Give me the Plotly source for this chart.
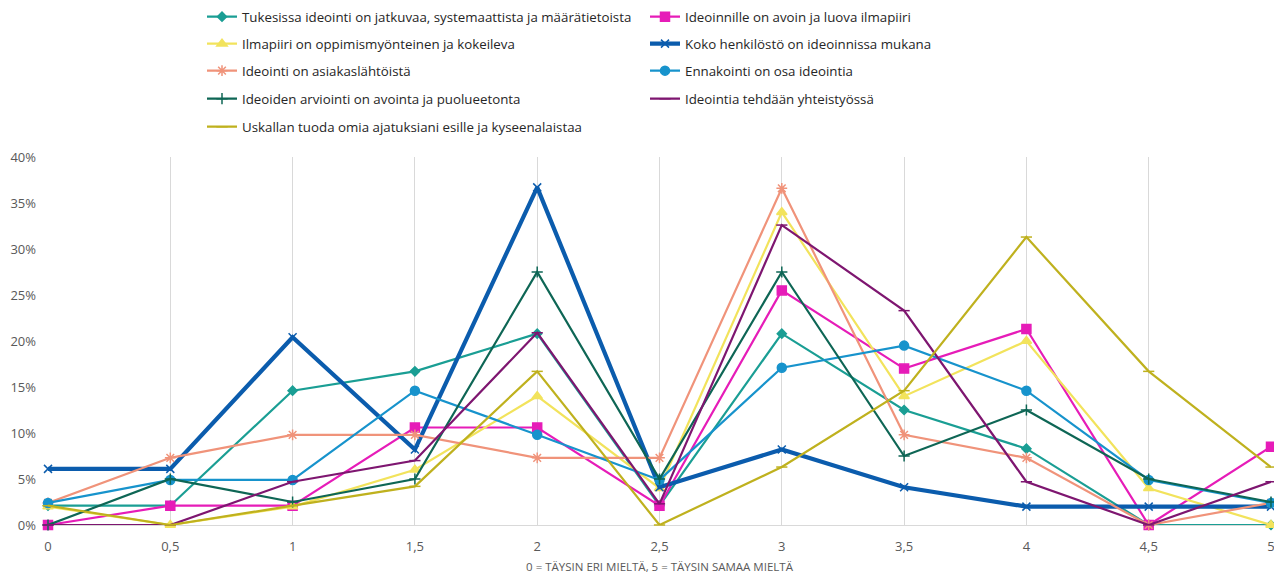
import plotly.graph_objects as go

x_vals = [0, 0.5, 1, 1.5, 2, 2.5, 3, 3.5, 4, 4.5, 5]
x_labels = ["0", "0,5", "1", "1,5", "2", "2,5", "3", "3,5", "4", "4,5", "5"]

names = [
    "Tukesissa ideointi on jatkuvaa, systemaattista ja määrätietoista",
    "Ideoinnille on avoin ja luova ilmapiiri",
    "Ilmapiiri on oppimismyönteinen ja kokeileva",
    "Koko henkilöstö on ideoinnissa mukana",
    "Ideointi on asiakaslähtöistä",
    "Ennakointi on osa ideointia",
    "Ideoiden arviointi on avointa ja puolueetonta",
    "Ideointia tehdään yhteistyössä",
    "Uskallan tuoda omia ajatuksiani esille ja kyseenalaistaa",
]

tukesissa = [2.1, 2.1, 14.6, 16.7, 20.8, 2.1, 20.8, 12.5, 8.3, 0.0, 0.0]
ideoinnille = [0.0, 2.1, 2.1, 10.6, 10.6, 2.1, 25.5, 17.0, 21.3, 0.0, 8.5]
ilmapiiri = [2.0, 0.0, 2.0, 6.0, 14.0, 4.0, 34.0, 14.0, 20.0, 4.0, 0.0]
koko = [6.1, 6.1, 20.4, 8.2, 36.7, 4.1, 8.2, 4.1, 2.0, 2.0, 2.0]
asiakas = [2.4, 7.3, 9.8, 9.8, 7.3, 7.3, 36.6, 9.8, 7.3, 0.0, 2.4]
ennakointi = [2.4, 4.9, 4.9, 14.6, 9.8, 4.9, 17.1, 19.5, 14.6, 4.9, 2.4]
arviointi = [0.0, 5.0, 2.5, 5.0, 27.5, 5.0, 27.5, 7.5, 12.5, 5.0, 2.5]
yhteistyo = [0.0, 0.0, 4.7, 7.0, 20.9, 2.3, 32.6, 23.3, 4.7, 0.0, 4.7]
uskallan = [2.1, 0.0, 2.1, 4.2, 16.7, 0.0, 6.3, 14.6, 31.3, 16.7, 6.3]

series = [tukesissa, ideoinnille, ilmapiiri, koko, asiakas, ennakointi, arviointi, yhteistyo, uskallan]

colors = ["#1A9E94", "#E61CB8", "#F2E35C", "#0B5CAD", "#F0937A", "#1793CC", "#0E6655", "#7E1670", "#BFB11E"]
symbols = ["diamond", "square", "triangle-up", "x-thin-open", "asterisk-open", "circle",
           "cross-thin-open", "line-ew-open", "line-ew-open"]
sizes = [7, 9, 9, 8, 9, 9, 8, 8, 8]
widths = [2.2, 2.2, 2.2, 4.2, 2.2, 2.2, 2.2, 2.2, 2.2]
legend_ids = ["legend", "legend", "legend2", "legend2", "legend3", "legend3",
              "legend4", "legend4", "legend5"]
row_centers = [17, 44, 71, 99, 127]

# page body has an 8px margin in the browser
OFF = 8
W, H = 1282 - OFF, 577 - OFF

fig = go.Figure()
for name, ys, c, s, sz, w, lg in zip(names, series, colors, symbols, sizes, widths, legend_ids):
    fig.add_trace(go.Scatter(
        x=x_vals, y=[v / 100 for v in ys], name=name, mode="lines+markers",
        line=dict(color=c, width=w),
        marker=dict(symbol=s, size=sz, color=c, line=dict(color=c, width=1.5)),
        cliponaxis=False, legend=lg,
    ))

font_family = "'Open Sans', sans-serif"

layout_legends = {}
for i, yc in enumerate(row_centers):
    key = "legend" if i == 0 else f"legend{i + 1}"
    layout_legends[key] = dict(
        orientation="h", x=194 / W, xref="container", xanchor="left",
        y=1 - (yc - OFF) / H, yref="container", yanchor="middle",
        entrywidth=398, entrywidthmode="pixels",
        font=dict(size=13.3, color="#262626", family=font_family),
        bgcolor="rgba(0,0,0,0)", itemwidth=30,
    )

fig.update_layout(
    width=W, height=H,
    margin=dict(l=48 - OFF, r=11, t=157 - OFF, b=52),
    paper_bgcolor="white", plot_bgcolor="white",
    font=dict(family=font_family, color="#595959", size=13),
    showlegend=True,
    xaxis=dict(
        range=[0, 5], tickvals=x_vals, ticktext=x_labels, automargin=False,
        showgrid=True, gridcolor="#D9D9D9", gridwidth=1,
        zeroline=False, showline=False, ticks="", ticklabelstandoff=12,
        tickfont=dict(size=13, color="#595959"),
        title=dict(text="0 = TÄYSIN ERI MIELTÄ, 5 = TÄYSIN SAMAA MIELTÄ",
                   font=dict(size=11.5, color="#595959"), standoff=8),
    ),
    yaxis=dict(
        range=[0, 0.40], dtick=0.05, tickformat=".0%", automargin=False,
        showgrid=False, zeroline=True, zerolinecolor="#D9D9D9", zerolinewidth=1,
        showline=False, ticks="", ticklabelstandoff=11,
        tickfont=dict(size=13, color="#595959"),
    ),
    **layout_legends,
)

fig.write_html("out.html")
